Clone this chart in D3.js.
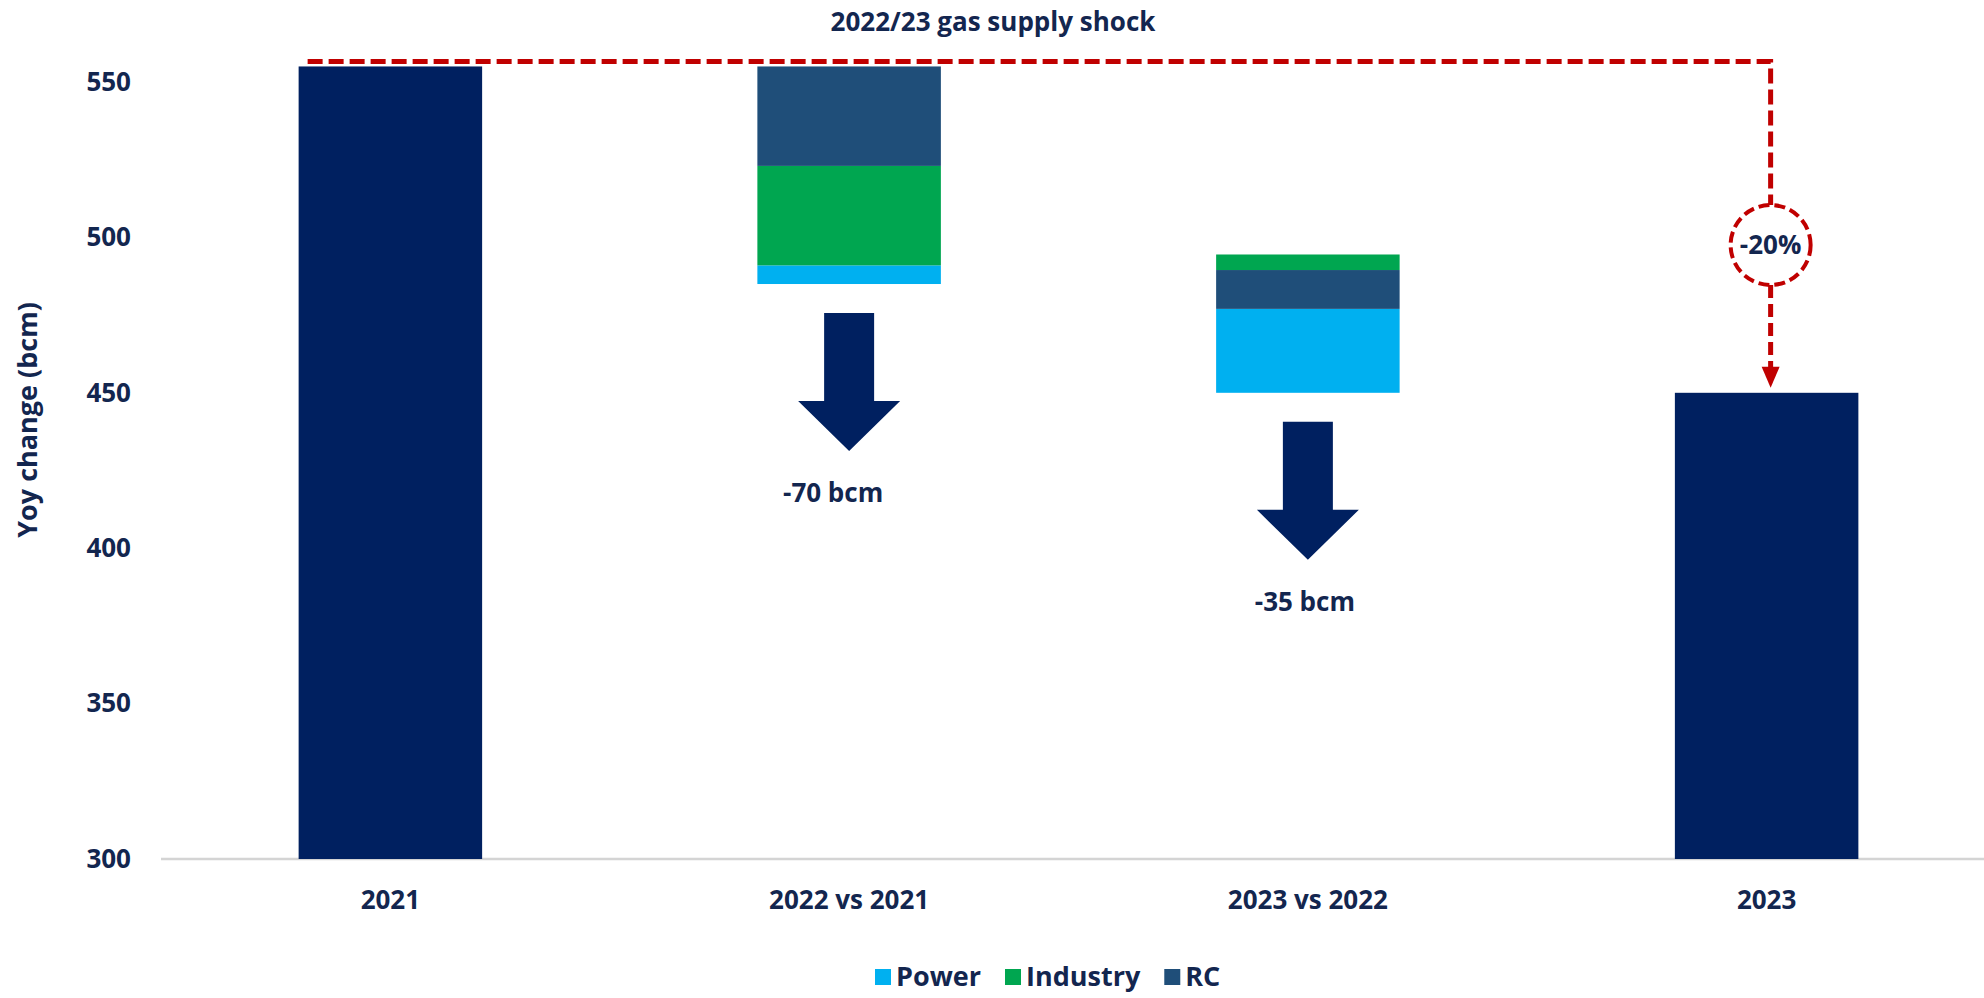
<!DOCTYPE html>
<html>
<head>
<meta charset="utf-8">
<script src="https://cdn.jsdelivr.net/npm/d3@7"></script>
<style>
  html, body { margin: 0; padding: 0; background: #ffffff; }
  svg { display: block; font-family: "Open Sans", "DejaVu Sans", sans-serif; font-weight: 700; }
</style>
</head>
<body>
<svg id="chart" width="1984" height="998"></svg>
<script>
// Gas demand levels (bcm) and the sector breakdown of each year-on-year change
const categories = ["2021", "2022 vs 2021", "2023 vs 2022", "2023"];
const startLevel = 555;              // 2021 demand
const changes = [-70, -35];          // 2022 vs 2021, 2023 vs 2022
const sectors = ["Power", "Industry", "RC"];
const sectorColors = ["#00B0F0", "#00A650", "#1F4E79"];
// per change-bar: sector order from the bottom up, and segment sizes (bcm)
const stackOrder = [["Power", "Industry", "RC"], ["Power", "RC", "Industry"]];
const powerValues = [6, 27];
const industryValues = [32, 5];
const rcValues = [32, 12.5];
const yTicks = [300, 350, 400, 450, 500, 550];
const titleText = "2022/23 gas supply shock";
const yAxisTitle = "Yoy change (bcm)";
const shockLabel = "-20%";

const navy = "#002060";
const textColor = "#13264F";
const red = "#C00000";

const svg = d3.select("#chart");

// scales
const x = d3.scaleBand().domain(categories).range([161, 1996]).paddingInner(0.6).paddingOuter(0.3);
const y = d3.scaleLinear().domain([300, 550]).range([859, 82]);

// levels after each change
const levels = [startLevel];
changes.forEach(c => levels.push(levels[levels.length - 1] + c));
const endLevel = levels[levels.length - 1];

// baseline
svg.append("line")
  .attr("x1", x.range()[0]).attr("x2", 1984)
  .attr("y1", y(300)).attr("y2", y(300))
  .attr("stroke", "#D4D4D4").attr("stroke-width", 2.5);

// y axis (labels only)
const yAxis = svg.append("g")
  .attr("transform", "translate(140,0)")
  .call(d3.axisLeft(y).tickValues(yTicks).tickSize(0).tickPadding(9).tickFormat(d3.format("d")));
yAxis.select(".domain").remove();
yAxis.selectAll("text")
  .attr("fill", textColor).style("font-size", "26px")
  .style("font-family", "'Open Sans', sans-serif").style("font-weight", 700);

// x axis (labels only)
const xAxis = svg.append("g")
  .attr("transform", `translate(0,${y(300)})`)
  .call(d3.axisBottom(x).tickSize(0).tickPadding(32));
xAxis.select(".domain").remove();
xAxis.selectAll("text")
  .attr("fill", textColor).style("font-size", "26px")
  .style("font-family", "'Open Sans', sans-serif").style("font-weight", 700);

// total bars
const totals = [
  { cat: categories[0], value: startLevel },
  { cat: categories[3], value: endLevel }
];
svg.selectAll("rect.total").data(totals).join("rect")
  .attr("class", "total")
  .attr("x", d => x(d.cat)).attr("width", x.bandwidth())
  .attr("y", d => y(d.value)).attr("height", d => y(300) - y(d.value))
  .attr("fill", navy);

// stacked change bars, built from the lower level of each step upward
const sectorValues = { Power: powerValues, Industry: industryValues, RC: rcValues };
const colorOf = d3.scaleOrdinal().domain(sectors).range(sectorColors);
const segments = [];
changes.forEach((c, i) => {
  const cat = categories[i + 1];
  let base = Math.min(levels[i], levels[i + 1]);
  stackOrder[i].forEach(s => {
    const v = sectorValues[s][i];
    segments.push({ cat, sector: s, y0: base, y1: base + v });
    base += v;
  });
});
svg.selectAll("rect.seg").data(segments).join("rect")
  .attr("class", "seg")
  .attr("x", d => x(d.cat)).attr("width", x.bandwidth())
  .attr("y", d => y(d.y1)).attr("height", d => y(d.y0) - y(d.y1))
  .attr("fill", d => colorOf(d.sector));

// block arrows and change labels under each change bar
changes.forEach((c, i) => {
  const cat = categories[i + 1];
  const cx = x(cat) + x.bandwidth() / 2;
  const bottom = y(Math.min(levels[i], levels[i + 1]));
  const top = bottom + 29, headBase = top + 88, tip = top + 138;
  const sw = 25, hw = 51;
  const pts = [[cx - sw, top], [cx + sw, top], [cx + sw, headBase], [cx + hw, headBase],
               [cx, tip], [cx - hw, headBase], [cx - sw, headBase]];
  svg.append("path").attr("d", d3.line()(pts) + "Z").attr("fill", navy);
  svg.append("text")
    .attr("x", cx - (i === 0 ? 16 : 3)).attr("y", tip + 42).attr("dy", "0.35em")
    .attr("text-anchor", "middle").attr("fill", textColor)
    .style("font-size", "26px")
    .text(`${c} bcm`);
});

// dashed shock connector from 2021 level to 2023 level
const lineY = y(startLevel) - 5;
const endX = x(categories[3]) + x.bandwidth() / 2 + 4;
const circY = 245, circR = 40;
const g = svg.append("g").attr("stroke", red).attr("fill", "none");
g.append("path")
  .attr("d", d3.line()([[x(categories[0]) + 9, lineY], [endX, lineY], [endX, circY - circR]]))
  .attr("stroke-width", 5).attr("stroke-dasharray", "15 6");
g.append("circle")
  .attr("cx", endX).attr("cy", circY).attr("r", circR)
  .attr("stroke-width", 4).attr("stroke-dasharray", "11 5");
const arrowTip = y(endLevel) - 5;
g.append("line")
  .attr("x1", endX).attr("x2", endX)
  .attr("y1", circY + circR).attr("y2", arrowTip - 18)
  .attr("stroke-width", 5).attr("stroke-dasharray", "13 6");
svg.append("path")
  .attr("d", d3.line()([[endX - 9, arrowTip - 21], [endX + 9, arrowTip - 21], [endX, arrowTip]]) + "Z")
  .attr("fill", red);
svg.append("text")
  .attr("x", endX).attr("y", circY).attr("dy", "0.35em")
  .attr("text-anchor", "middle").attr("fill", textColor)
  .style("font-size", "26px").text(shockLabel);

// title
svg.append("text")
  .attr("x", 993).attr("y", 22).attr("dy", "0.35em")
  .attr("text-anchor", "middle").attr("fill", textColor)
  .style("font-size", "26px").text(titleText);

// y axis title
svg.append("text")
  .attr("transform", "translate(28,420) rotate(-90)")
  .attr("dy", "0.35em").attr("text-anchor", "middle").attr("fill", textColor)
  .style("font-size", "27px").text(yAxisTitle);

// legend
const legend = svg.append("g").attr("transform", "translate(875,977)");
let lx = 0;
sectors.forEach((s, i) => {
  const item = legend.append("g").attr("transform", `translate(${lx},0)`);
  item.append("rect").attr("x", 0).attr("y", -8).attr("width", 16).attr("height", 16).attr("fill", sectorColors[i]);
  const t = item.append("text").attr("x", 21).attr("dy", "0.35em").attr("fill", textColor)
    .style("font-size", "27px").text(s);
  lx += 21 + t.node().getComputedTextLength() + 24;
});
</script>
</body>
</html>
